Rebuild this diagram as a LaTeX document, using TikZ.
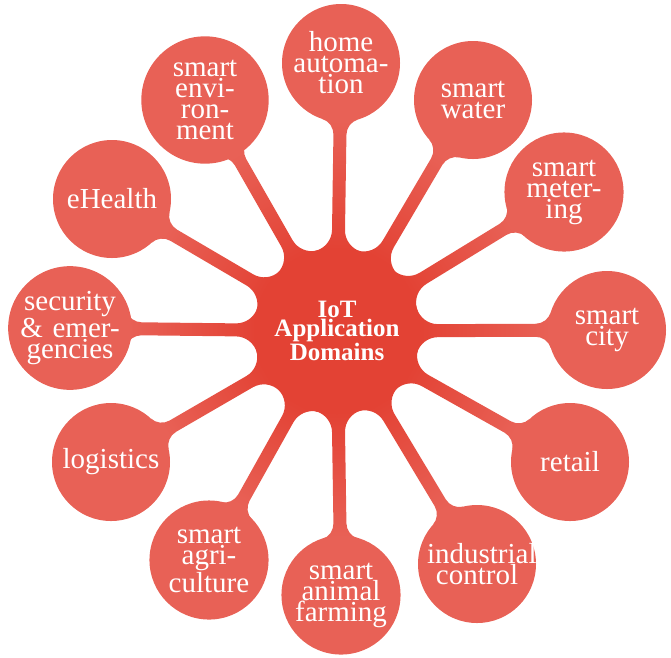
\documentclass[tikz,border=0pt]{standalone}
\usepackage{fontspec}
\setmainfont{Liberation Serif}
\usetikzlibrary{backgrounds}
\definecolor{rootred}{RGB}{227,66,52}
\definecolor{leafred}{RGB}{232,97,86}
% bar geometry (pt): root radius, leaf radius, half bar width, fillet radii
\def\Rr{83}\def\Rl{59}\def\Hw{6.5}\def\Fr{22}\def\Fl{16}
\begin{document}
\begin{tikzpicture}[x=1pt, y=-1pt,
  rootnode/.style={circle, fill=rootred, text=white,
    minimum size=166pt, text width=150pt, inner sep=0pt, align=center,
    font=\fontsize{25}{19}\selectfont\bfseries},
  leaf/.style={circle, fill=leafred, text=white,
    minimum size=118pt, text width=100pt, inner sep=0pt, align=center,
    font=\fontsize{29}{21}\selectfont},
  connbar/.style={top color=leafred, bottom color=rootred}]
\useasboundingbox (0,0) rectangle (671,657);

% central topic
\node[rootnode] (root) at (337,331) {IoT\\Application\\Domains};

% application domains around it
\node[leaf] (home)      at (341,63)  {home\\automa-\\tion};
\node[leaf] (water)     at (473,100) {smart\\water};
\node[leaf] (meter)     at (564,192) {smart\\meter-\\ing};
\node[leaf] (city)      at (607,330) {smart\\city};
\node[leaf] (retail)    at (570,462) {retail};
\node[leaf] (industry)  at (477,564) {\mbox{industrial}\\control};
\node[leaf] (farming)   at (341,595) {smart\\animal\\farming};
\node[leaf] (agri)      at (209,560) {smart\\agri-\\culture};
\node[leaf] (logistics) at (111,462) {logistics};
\node[leaf] (security)  at (70,328)  {security\\\&~emer-\\gencies};
\node[leaf] (ehealth)   at (112,199) {eHealth};
\node[leaf] (env)       at (205,100) {smart\\envi-\\ron-\\ment};

% fixed fillet geometry
\pgfmathsetmacro\ax{sqrt((\Rr+\Fr)^2-(\Hw+\Fr)^2)}
\pgfmathsetmacro\al{atan((\Hw+\Fr)/\ax)}
\pgfmathsetmacro\prx{\Rr*\ax/(\Rr+\Fr)}
\pgfmathsetmacro\pry{\Rr*(\Hw+\Fr)/(\Rr+\Fr)}
\pgfmathsetmacro\bb{sqrt((\Rl+\Fl)^2-(\Hw+\Fl)^2)}
\pgfmathsetmacro\ga{atan((\Hw+\Fl)/\bb)}
\pgfmathsetmacro\pcx{\Rl*\bb/(\Rl+\Fl)}
\pgfmathsetmacro\pcy{\Rl*(\Hw+\Fl)/(\Rl+\Fl)}
\pgfmathsetmacro\saA{\al-180}
\pgfmathsetmacro\eaA{180-\al}
\pgfmathsetmacro\ngA{-\ga}

% connection bars with rounded joints, behind the circles
\begin{pgfonlayer}{background}
\foreach \n in {home,water,meter,city,retail,industry,farming,agri,logistics,security,ehealth,env}{
  \pgfpointdiff{\pgfpointanchor{root}{center}}{\pgfpointanchor{\n}{center}}
  \pgfgetlastxy{\cdx}{\cdy}
  \pgfmathsetmacro\cang{atan2(\cdy,\cdx)}
  \pgfmathsetmacro\cdist{veclen(\cdx,\cdy)}
  \pgfmathsetmacro\sang{\cang-90}
  \begin{scope}[shift={(root.center)}, rotate=\cang, x=1pt, y=1pt]
    \shade[connbar, shading angle=\sang]
      (\prx,\pry) arc[start angle=\saA, end angle=-90, radius=\Fr]
      -- (\cdist-\bb,\Hw) arc[start angle=-90, end angle=\ngA, radius=\Fl]
      -- (\cdist-\pcx,-\pcy) arc[start angle=\ga, end angle=90, radius=\Fl]
      -- (\ax,-\Hw) arc[start angle=90, end angle=\eaA, radius=\Fr]
      -- cycle;
  \end{scope}
}
\end{pgfonlayer}
\end{tikzpicture}
\end{document}
